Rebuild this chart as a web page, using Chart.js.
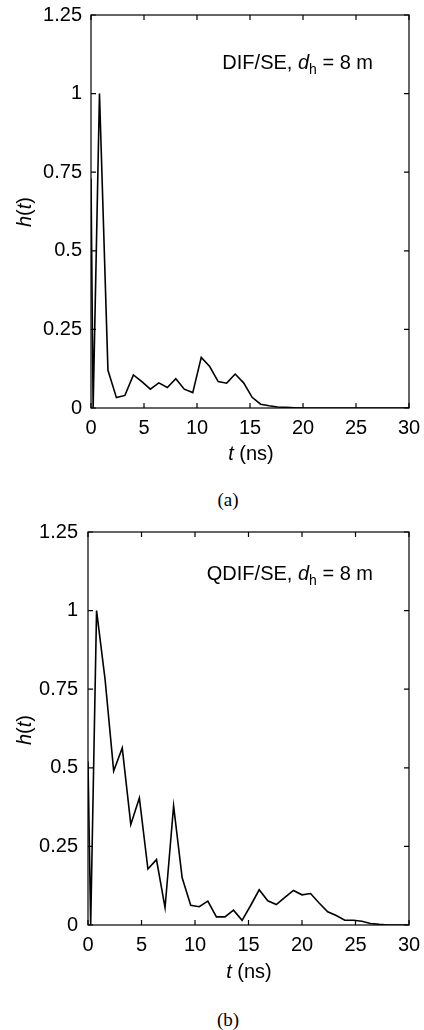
<!DOCTYPE html>
<html>
<head>
<meta charset="utf-8">
<script src="https://cdn.jsdelivr.net/npm/chart.js@4.4.1/dist/chart.umd.min.js"></script>
<style>
  html, body { margin: 0; padding: 0; background: #fff; }
  body { width: 424px; height: 1030px; position: relative; overflow: hidden; font-family: "Liberation Sans", Arial, sans-serif; color: #000; }
  .box { position: absolute; left: 0; width: 424px; height: 470px; }
  .txt { position: absolute; font-size: 20px; line-height: 20px; white-space: nowrap; }
  .note { right: 51px; }
  .xt { width: 424px; left: 0; text-align: center; }
  .yt { width: 60px; text-align: center; transform: rotate(-90deg); }
  .cap { font-family: "Liberation Serif", "Times New Roman", serif; font-size: 19px; line-height: 19px; width: 60px; text-align: center; }
  sub { font-size: 14px; vertical-align: -5px; line-height: 0; }
</style>
</head>
<body>
<div class="box" style="top:0"><canvas id="chartA"></canvas></div>
<div class="box" style="top:517px"><canvas id="chartB"></canvas></div>

<div class="txt note" style="top:52px">DIF/SE, <i>d</i><sub>h</sub> = 8 m</div>
<div class="txt xt" style="top:443px;padding-left:78px;box-sizing:border-box"><i>t</i> (ns)</div>
<div class="txt yt" style="left:-6px;top:202px"><i>h</i>(<i>t</i>)</div>
<div class="txt cap" style="left:198px;top:490px">(a)</div>

<div class="txt note" style="top:563px">QDIF/SE, <i>d</i><sub>h</sub> = 8 m</div>
<div class="txt xt" style="top:961px;padding-left:74px;box-sizing:border-box"><i>t</i> (ns)</div>
<div class="txt yt" style="left:-6px;top:720px"><i>h</i>(<i>t</i>)</div>
<div class="txt cap" style="left:198px;top:1010px">(b)</div>

<script>
// (a) DIF/SE
const tA = [0, 0.2, 0.8, 1.6, 2.4, 3.2, 4.0, 4.8, 5.6, 6.4, 7.2, 8.0, 8.8, 9.6, 10.4, 11.2, 12.0, 12.8, 13.6, 14.4, 15.2, 16.0, 16.8, 17.6, 18.4, 19.2, 20.0, 25.0, 30.0];
const hA = [0.73, 0.0, 1.0, 0.12, 0.033, 0.04, 0.105, 0.084, 0.06, 0.08, 0.065, 0.093, 0.06, 0.049, 0.161, 0.132, 0.084, 0.079, 0.108, 0.08, 0.034, 0.012, 0.007, 0.003, 0.002, 0.001, 0, 0, 0];

// (b) QDIF/SE
const tB = [0, 0.25, 0.8, 1.6, 2.4, 3.2, 4.0, 4.8, 5.6, 6.4, 7.2, 8.0, 8.8, 9.6, 10.4, 11.2, 12.0, 12.8, 13.6, 14.4, 15.2, 16.0, 16.8, 17.6, 18.4, 19.2, 20.0, 20.8, 21.6, 22.4, 23.2, 24.0, 24.8, 25.6, 26.4, 27.2, 28.0, 30.0];
const hB = [0.52, 0.0, 1.0, 0.78, 0.49, 0.563, 0.32, 0.404, 0.178, 0.208, 0.055, 0.379, 0.15, 0.063, 0.058, 0.076, 0.026, 0.026, 0.047, 0.015, 0.062, 0.112, 0.077, 0.065, 0.088, 0.11, 0.096, 0.1, 0.07, 0.042, 0.03, 0.015, 0.015, 0.012, 0.005, 0.002, 0, 0];

// axis ticks
const xTicks = [0, 5, 10, 15, 20, 25, 30];
const yTicks = [0, 0.25, 0.5, 0.75, 1, 1.25];

// box around plot + inward ticks on all four sides (matlab look)
const frameTicks = {
  id: 'frameTicks',
  afterDraw(chart) {
    const { ctx, chartArea: a, scales } = chart;
    const len = 5;
    ctx.save();
    ctx.strokeStyle = '#000';
    ctx.lineWidth = 1.2;
    ctx.strokeRect(a.left, a.top, a.right - a.left, a.bottom - a.top);
    ctx.beginPath();
    xTicks.forEach(v => {
      const px = scales.x.getPixelForValue(v);
      ctx.moveTo(px, a.bottom); ctx.lineTo(px, a.bottom - len);
      ctx.moveTo(px, a.top); ctx.lineTo(px, a.top + len);
    });
    yTicks.forEach(v => {
      const py = scales.y.getPixelForValue(v);
      ctx.moveTo(a.left, py); ctx.lineTo(a.left + len, py);
      ctx.moveTo(a.right, py); ctx.lineTo(a.right - len, py);
    });
    ctx.stroke();
    ctx.restore();
  }
};

function makeChart(id, ts, hs, yWidth, yPad) {
  const pts = ts.map((t, i) => ({ x: t, y: hs[i] }));
  return new Chart(document.getElementById(id), {
    type: 'line',
    data: {
      datasets: [{
        data: pts,
        borderColor: '#000',
        borderWidth: 1.6,
        pointRadius: 0,
        tension: 0,
        fill: false,
      }],
    },
    options: {
      responsive: false,
      animation: false,
      layout: { padding: { left: 0, right: 15, top: 15, bottom: 0 } },
      plugins: { legend: { display: false }, tooltip: { enabled: false } },
      scales: {
        x: {
          type: 'linear',
          min: 0, max: 30,
          afterBuildTicks: s => { s.ticks = xTicks.map(v => ({ value: v })); },
          afterFit: s => { s.height = 62; s.paddingLeft = 0; s.paddingRight = 0; },
          grid: { display: false, drawTicks: false },
          border: { display: false },
          ticks: { color: '#000', padding: 8, maxRotation: 0, font: { family: 'Liberation Sans', size: 20 } },
        },
        y: {
          min: 0, max: 1.25,
          afterBuildTicks: s => { s.ticks = yTicks.map(v => ({ value: v })); },
          afterFit: s => { s.width = yWidth; s.paddingTop = 0; s.paddingBottom = 0; },
          grid: { display: false, drawTicks: false },
          border: { display: false },
          ticks: { color: '#000', padding: yPad, font: { family: 'Liberation Sans', size: 20 }, callback: v => String(v) },
        },
      },
    },
    plugins: [frameTicks],
  });
}

document.getElementById('chartA').width = 424;
document.getElementById('chartA').height = 470;
document.getElementById('chartB').width = 424;
document.getElementById('chartB').height = 470;

makeChart('chartA', tA, hA, 91, 9);
makeChart('chartB', tB, hB, 88, 10);
</script>
</body>
</html>
